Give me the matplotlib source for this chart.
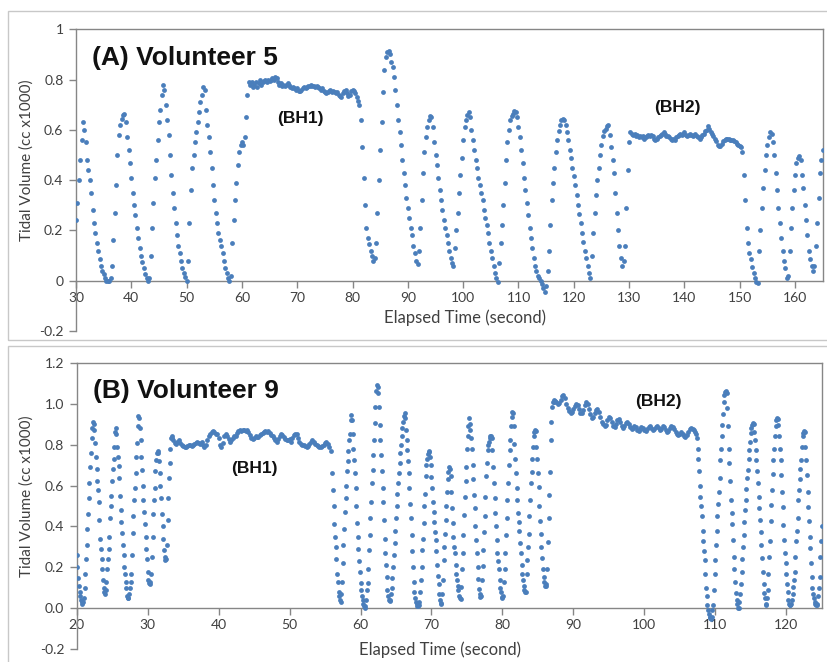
#!/usr/bin/env python3

import numpy as np
import matplotlib
matplotlib.use("Agg")
import matplotlib.pyplot as plt
from matplotlib.patches import Rectangle

plt.rcParams["font.family"] = ["Lato", "DejaVu Sans"]

dot_color = "#4a7ebb"
axis_gray = "#868686"
frame_gray = "#c8c8c8"

# Panel A: volunteer 5, one sample every 0.25 s, split in breathing / breath-hold runs
a_steps = [0.25, 0.25, 0.25, 0.25, 0.25]
a_starts = [30.0, 61.5, 81.25, 130.5, 150.75]
a_free1 = [
  0.24, 0.31, 0.40, 0.48, 0.56, 0.63, 0.60, 0.55, 0.48, 0.44, 0.40, 0.35, 0.28, 0.23, 0.19, 0.15, 0.12, 0.085, 0.06, 0.04,
  0.025, 0.01, 0.0, 0.0, 0.0, 0.01, 0.06, 0.16, 0.27, 0.38, 0.50, 0.58, 0.62, 0.645, 0.66, 0.665, 0.63, 0.57, 0.52, 0.47,
  0.41, 0.35, 0.30, 0.26, 0.21, 0.17, 0.13, 0.10, 0.075, 0.05, 0.025, 0.01, 0.0, 0.01, 0.10, 0.21, 0.31, 0.41, 0.48, 0.56,
  0.63, 0.68, 0.74, 0.78, 0.76, 0.70, 0.64, 0.58, 0.50, 0.42, 0.35, 0.29, 0.23, 0.18, 0.14, 0.11, 0.08, 0.05, 0.03, 0.015,
  0.0, 0.08, 0.23, 0.36, 0.45, 0.50, 0.55, 0.59, 0.63, 0.67, 0.71, 0.74, 0.77, 0.76, 0.68, 0.62, 0.57, 0.51, 0.45, 0.38,
  0.32, 0.27, 0.23, 0.19, 0.16, 0.14, 0.11, 0.08, 0.05, 0.03, 0.01, 0.0, 0.02, 0.15, 0.24, 0.32, 0.39, 0.46, 0.51, 0.54,
  0.55, 0.54, 0.57, 0.65, 0.74, 0.79,
]
a_hold1 = [
  0.78, 0.79, 0.77, 0.78, 0.79, 0.77, 0.785, 0.80, 0.78, 0.79, 0.795, 0.80,
  0.79, 0.80, 0.795, 0.80, 0.805, 0.80, 0.81, 0.805, 0.79, 0.78, 0.785, 0.775, 0.78, 0.775, 0.78, 0.785, 0.78, 0.77, 0.765, 0.77,
  0.765, 0.76, 0.765, 0.755, 0.755, 0.76, 0.765, 0.77, 0.765, 0.77, 0.775, 0.775, 0.78, 0.775, 0.775, 0.77, 0.775, 0.77, 0.765, 0.76,
  0.765, 0.755, 0.75, 0.745, 0.75, 0.755, 0.76, 0.75, 0.755, 0.75, 0.745, 0.75, 0.74, 0.735, 0.73, 0.745, 0.755, 0.76, 0.745, 0.735,
  0.74, 0.755, 0.76, 0.755, 0.745, 0.73, 0.715,
]
a_free2 = [
  0.70, 0.64, 0.53, 0.41, 0.30, 0.21, 0.17, 0.145, 0.12, 0.10, 0.08, 0.09,
  0.15, 0.27, 0.40, 0.52, 0.63, 0.75, 0.84, 0.89, 0.91, 0.915, 0.90, 0.87, 0.85, 0.81, 0.76, 0.70, 0.64, 0.59, 0.54, 0.48,
  0.43, 0.38, 0.33, 0.29, 0.25, 0.21, 0.18, 0.14, 0.11, 0.08, 0.065, 0.12, 0.21, 0.32, 0.43, 0.51, 0.57, 0.61, 0.64, 0.655,
  0.65, 0.61, 0.55, 0.50, 0.46, 0.41, 0.36, 0.32, 0.28, 0.24, 0.21, 0.18, 0.15, 0.12, 0.09, 0.07, 0.06, 0.13, 0.20, 0.27,
  0.35, 0.42, 0.49, 0.56, 0.61, 0.64, 0.66, 0.67, 0.65, 0.60, 0.56, 0.52, 0.48, 0.45, 0.41, 0.38, 0.35, 0.32, 0.28, 0.25,
  0.22, 0.19, 0.15, 0.12, 0.09, 0.06, 0.03, 0.01, -0.005, 0.07, 0.15, 0.22, 0.30, 0.39, 0.48, 0.55, 0.60, 0.64, 0.655, 0.665,
  0.675, 0.67, 0.65, 0.61, 0.57, 0.52, 0.47, 0.41, 0.36, 0.31, 0.26, 0.21, 0.17, 0.13, 0.09, 0.06, 0.04, 0.02, 0.01, 0.0,
  -0.015, -0.03, -0.045, -0.02, 0.04, 0.12, 0.22, 0.32, 0.39, 0.45, 0.51, 0.56, 0.595, 0.62, 0.64, 0.645, 0.64, 0.62, 0.59, 0.56,
  0.52, 0.49, 0.45, 0.415, 0.38, 0.34, 0.30, 0.265, 0.23, 0.19, 0.155, 0.12, 0.09, 0.06, 0.03, 0.01, 0.10, 0.19, 0.27, 0.34,
  0.40, 0.45, 0.50, 0.54, 0.575, 0.595, 0.605, 0.615, 0.62, 0.58, 0.53, 0.48, 0.43, 0.35, 0.27, 0.20, 0.14, 0.09, 0.06, 0.08,
  0.14, 0.29, 0.44, 0.55, 0.59,
]
a_hold2 = [
  0.585, 0.58, 0.585, 0.575, 0.58, 0.57, 0.575, 0.57, 0.575, 0.565, 0.57, 0.575, 0.58, 0.575, 0.58, 0.575,
  0.565, 0.56, 0.565, 0.57, 0.575, 0.58, 0.585, 0.59, 0.585, 0.575, 0.575, 0.57, 0.565, 0.56, 0.565, 0.56, 0.57, 0.575, 0.58, 0.585,
  0.58, 0.585, 0.59, 0.58, 0.575, 0.58, 0.585, 0.58, 0.575, 0.58, 0.585, 0.575, 0.57, 0.565, 0.57, 0.58, 0.585, 0.595, 0.60, 0.615,
  0.605, 0.59, 0.585, 0.575, 0.565, 0.555, 0.54, 0.535, 0.535, 0.545, 0.555, 0.56, 0.565, 0.565, 0.565, 0.56, 0.56, 0.56, 0.555, 0.55,
  0.545, 0.54, 0.535, 0.53, 0.51,
]
a_free3 = [
  0.42, 0.32, 0.21, 0.15, 0.11, 0.085, 0.055, 0.03, 0.01, -0.005, -0.01, 0.12, 0.20, 0.29, 0.37, 0.44,
  0.50, 0.54, 0.57, 0.59, 0.585, 0.55, 0.50, 0.43, 0.36, 0.29, 0.23, 0.17, 0.12, 0.08, 0.05, 0.01, 0.02, 0.12, 0.21, 0.29,
  0.36, 0.42, 0.47, 0.49, 0.495, 0.48, 0.42, 0.37, 0.30, 0.24, 0.18, 0.12, 0.085, 0.06, 0.04, 0.06, 0.14, 0.23, 0.33, 0.43,
  0.48, 0.52,
]

# Panel B: volunteer 9, breathing runs every 0.1 s, breath holds every 0.2 s
b_steps = [0.1, 0.2, 0.1, 0.2, 0.1]
b_starts = [20.0, 33.6, 56.0, 87.6, 107.3]
b_free1 = [
  0.26, 0.20, 0.15, 0.11, 0.08, 0.06, 0.04, 0.03, 0.02, 0.03,
  0.05, 0.10, 0.17, 0.24, 0.31, 0.39, 0.46, 0.54, 0.61, 0.69,
  0.76, 0.83, 0.88, 0.91, 0.90, 0.87, 0.81, 0.74, 0.68, 0.62,
  0.58, 0.52, 0.43, 0.34, 0.29, 0.24, 0.19, 0.14, 0.10, 0.08,
  0.07, 0.09, 0.13, 0.19, 0.24, 0.29, 0.35, 0.44, 0.50, 0.55,
  0.62, 0.68, 0.73, 0.79, 0.86, 0.88, 0.85, 0.79, 0.74, 0.695,
  0.635, 0.55, 0.48, 0.42, 0.37, 0.31, 0.26, 0.20, 0.17, 0.13,
  0.10, 0.06, 0.05, 0.05, 0.07, 0.10, 0.13, 0.17, 0.26, 0.37,
  0.45, 0.53, 0.59, 0.66, 0.74, 0.81, 0.89, 0.94, 0.93, 0.88,
  0.82, 0.74, 0.675, 0.60, 0.53, 0.47, 0.41, 0.35, 0.29, 0.24,
  0.18, 0.14, 0.125, 0.12, 0.13, 0.17, 0.25, 0.35, 0.46, 0.53,
  0.59, 0.67, 0.725, 0.76, 0.77, 0.76, 0.72, 0.66, 0.60, 0.54,
  0.46, 0.40, 0.34, 0.285, 0.25, 0.235, 0.24, 0.31, 0.43, 0.54,
  0.635, 0.71, 0.78, 0.83, 0.84, 0.83,
]
b_hold1 = [
  0.82, 0.81, 0.805, 0.815, 0.82, 0.81, 0.80, 0.795, 0.79, 0.79, 0.795, 0.80, 0.80, 0.795, 0.80, 0.805, 0.81, 0.815, 0.81, 0.805,
  0.815, 0.80, 0.79, 0.80, 0.82, 0.84, 0.85, 0.86, 0.865, 0.86, 0.85, 0.85, 0.83, 0.80, 0.79, 0.81, 0.84, 0.85, 0.84, 0.825,
  0.815, 0.82, 0.83, 0.84, 0.84, 0.855, 0.865, 0.87, 0.865, 0.87, 0.87, 0.865, 0.87, 0.86, 0.845, 0.83, 0.825, 0.83, 0.84, 0.835,
  0.835, 0.845, 0.85, 0.855, 0.86, 0.865, 0.86, 0.865, 0.855, 0.845, 0.84, 0.83, 0.82, 0.815, 0.825, 0.84, 0.85, 0.845, 0.835, 0.825,
  0.82, 0.82, 0.825, 0.815, 0.83, 0.845, 0.85, 0.85, 0.83, 0.815, 0.805, 0.80, 0.80, 0.795, 0.79, 0.795, 0.805, 0.815, 0.82, 0.815,
  0.805, 0.80, 0.795, 0.79, 0.79, 0.795, 0.80, 0.81, 0.815, 0.805, 0.79, 0.77,
]
b_free2 = [
  0.66, 0.58, 0.50, 0.41, 0.35, 0.30, 0.24, 0.17, 0.13, 0.08,
  0.06, 0.04, 0.03, 0.07, 0.13, 0.22, 0.31, 0.39, 0.47, 0.54,
  0.60, 0.67, 0.72, 0.77, 0.82, 0.85, 0.92, 0.945, 0.92, 0.85,
  0.78, 0.725, 0.66, 0.59, 0.50, 0.415, 0.35, 0.29, 0.23, 0.18,
  0.125, 0.09, 0.06, 0.04, 0.02, 0.01, 0.0, 0.01, 0.04, 0.09,
  0.125, 0.19, 0.285, 0.36, 0.44, 0.52, 0.61, 0.675, 0.75, 0.82,
  0.905, 0.985, 1.06, 1.09, 1.08, 1.05, 0.985, 0.895, 0.82, 0.75,
  0.67, 0.59, 0.52, 0.43, 0.34, 0.27, 0.21, 0.155, 0.09, 0.06,
  0.04, 0.035, 0.04, 0.07, 0.10, 0.15, 0.20, 0.26, 0.32, 0.38,
  0.44, 0.50, 0.56, 0.61, 0.66, 0.71, 0.76, 0.80, 0.84, 0.88,
  0.91, 0.94, 0.955, 0.93, 0.87, 0.82, 0.775, 0.72, 0.66, 0.59,
  0.51, 0.44, 0.36, 0.28, 0.20, 0.13, 0.08, 0.05, 0.03, 0.02,
  0.01, 0.01, 0.015, 0.03, 0.08, 0.14, 0.20, 0.285, 0.34, 0.415,
  0.50, 0.56, 0.645, 0.70, 0.73, 0.755, 0.765, 0.77, 0.74, 0.70,
  0.64, 0.59, 0.52, 0.47, 0.42, 0.375, 0.335, 0.28, 0.21, 0.16,
  0.12, 0.07, 0.04, 0.025, 0.02, 0.07, 0.14, 0.235, 0.30, 0.365,
  0.43, 0.50, 0.57, 0.63, 0.665, 0.69, 0.68, 0.645, 0.57, 0.49,
  0.415, 0.35, 0.30, 0.27, 0.21, 0.17, 0.14, 0.11, 0.09, 0.06,
  0.05, 0.045, 0.105, 0.19, 0.27, 0.36, 0.455, 0.545, 0.62, 0.69,
  0.78, 0.84, 0.89, 0.93, 0.90, 0.87, 0.83, 0.78, 0.70, 0.63,
  0.555, 0.49, 0.40, 0.335, 0.27, 0.20, 0.145, 0.095, 0.07, 0.055,
  0.06, 0.14, 0.205, 0.285, 0.375, 0.45, 0.545, 0.645, 0.71, 0.775,
  0.80, 0.815, 0.83, 0.84, 0.84, 0.83, 0.775, 0.69, 0.61, 0.54,
  0.465, 0.40, 0.335, 0.27, 0.23, 0.19, 0.14, 0.10, 0.08, 0.055,
  0.05, 0.06, 0.13, 0.19, 0.27, 0.36, 0.44, 0.53, 0.61, 0.70,
  0.775, 0.82, 0.89, 0.935, 0.96, 0.955, 0.89, 0.805, 0.73, 0.66,
  0.59, 0.53, 0.465, 0.42, 0.38, 0.32, 0.27, 0.21, 0.17, 0.14,
  0.11, 0.09, 0.08, 0.08, 0.17, 0.235, 0.30, 0.365, 0.45, 0.53,
  0.61, 0.665, 0.73, 0.79, 0.84, 0.86, 0.87, 0.865, 0.79, 0.73,
  0.66, 0.595, 0.50, 0.425, 0.365, 0.30, 0.245, 0.19, 0.155, 0.13,
  0.11, 0.11, 0.12, 0.19, 0.325, 0.44, 0.555, 0.665, 0.82, 0.91,
  0.985, 1.01, 1.02, 1.01, 1.015,
]
b_hold2 = [
  1.01, 1.0, 1.005, 1.02, 1.035, 1.04, 1.03, 1.0, 0.98, 0.965, 0.955, 0.96, 0.975, 0.99, 1.0, 0.995, 0.975, 0.955, 0.955, 0.97,
  0.995, 1.01, 1.0, 0.975, 0.95, 0.93, 0.935, 0.955, 0.97, 0.975, 0.96, 0.935, 0.91, 0.90, 0.89, 0.895, 0.92, 0.935, 0.93, 0.91,
  0.89, 0.885, 0.90, 0.92, 0.925, 0.91, 0.89, 0.88, 0.89, 0.905, 0.91, 0.90, 0.885, 0.875, 0.88, 0.89, 0.885, 0.87, 0.865, 0.875,
  0.885, 0.88, 0.87, 0.865, 0.875, 0.885, 0.89, 0.88, 0.87, 0.875, 0.885, 0.89, 0.88, 0.87, 0.875, 0.89, 0.885, 0.87, 0.86, 0.865,
  0.88, 0.89, 0.885, 0.875, 0.86, 0.85, 0.845, 0.85, 0.86, 0.85, 0.84, 0.835, 0.845, 0.86, 0.875, 0.88, 0.875, 0.87, 0.86,
]
b_free3 = [
  0.85, 0.83, 0.78, 0.73, 0.67, 0.60, 0.545, 0.50, 0.45, 0.38,
  0.33, 0.28, 0.235, 0.17, 0.10, 0.06, 0.015, -0.01, -0.03, -0.04,
  -0.045, -0.05, -0.04, -0.01, 0.016, 0.09, 0.17, 0.235, 0.31, 0.38,
  0.45, 0.51, 0.57, 0.635, 0.725, 0.78, 0.84, 0.895, 0.95, 1.01,
  1.04, 1.055, 1.06, 1.05, 0.98, 0.89, 0.78, 0.71, 0.62, 0.53,
  0.465, 0.41, 0.335, 0.25, 0.19, 0.13, 0.075, 0.04, 0.02, 0.0,
  0.0, 0.03, 0.07, 0.12, 0.18, 0.24, 0.30, 0.36, 0.42, 0.48,
  0.53, 0.585, 0.635, 0.675, 0.73, 0.775, 0.815, 0.855, 0.88, 0.895,
  0.905, 0.90, 0.86, 0.82, 0.775, 0.725, 0.67, 0.61, 0.545, 0.49,
  0.43, 0.375, 0.31, 0.245, 0.18, 0.12, 0.075, 0.05, 0.02, 0.015,
  0.05, 0.09, 0.17, 0.25, 0.33, 0.425, 0.505, 0.58, 0.655, 0.725,
  0.78, 0.84, 0.89, 0.92, 0.93, 0.925, 0.895, 0.84, 0.78, 0.725,
  0.65, 0.57, 0.495, 0.405, 0.335, 0.27, 0.22, 0.17, 0.12, 0.08,
  0.04, 0.02, 0.015, 0.015, 0.02, 0.04, 0.07, 0.105, 0.14, 0.18,
  0.25, 0.33, 0.38, 0.44, 0.53, 0.58, 0.63, 0.68, 0.725, 0.79,
  0.84, 0.855, 0.865, 0.86, 0.79, 0.725, 0.65, 0.57, 0.495, 0.425,
  0.35, 0.295, 0.22, 0.155, 0.10, 0.07, 0.05, 0.03, 0.02, 0.015,
  0.015, 0.02, 0.06, 0.10, 0.155, 0.25, 0.33, 0.40,
]

a_xticks = list(range(30, 170, 10))
a_yticks = [-0.2, 0, 0.2, 0.4, 0.6, 0.8, 1]
a_ylabels = ["-0.2", "0", "0.2", "0.4", "0.6", "0.8", "1"]
b_xticks = list(range(20, 130, 10))
b_yticks = [-0.2, 0.0, 0.2, 0.4, 0.6, 0.8, 1.0, 1.2]
b_ylabels = ["-0.2", "0.0", "0.2", "0.4", "0.6", "0.8", "1.0", "1.2"]


def join_runs(starts, runs, steps):
  t, v = [], []
  for t0, run, step in zip(starts, runs, steps):
    t.extend(t0 + step*np.arange(len(run)))
    v.extend(run)
  return np.array(t), np.array(v)


W, H = 827, 662

def fig_box(x0, y0, x1, y1):
  # pixel box (top-left origin) -> figure fraction rect
  return [x0/W, 1 - y1/H, (x1 - x0)/W, (y1 - y0)/H]


def draw_panel(fig, box, t, v, xlim, ylim, xticks, yticks, ylabels, title, notes, ylab_xy, xlab_xy, title_xy):
  ax = fig.add_axes(fig_box(*box))
  ax.scatter(t, v, s=12, color=dot_color, linewidths=0, zorder=3)
  ax.set_xlim(*xlim)
  ax.set_ylim(*ylim)

  ax.spines["bottom"].set_position(("data", 0))
  for side in ["left", "bottom", "top", "right"]:
    ax.spines[side].set_color(axis_gray)
    ax.spines[side].set_linewidth(1.0)
  ax.spines["right"].set_bounds(0, ylim[1])

  ax.set_xticks(xticks)
  ax.set_xticklabels([str(x) for x in xticks])
  ax.set_yticks(yticks)
  ax.set_yticklabels(ylabels)
  ax.tick_params(axis="both", direction="out", length=5, width=1, color=axis_gray,
                 labelsize=10, labelcolor="#404040")
  ax.tick_params(axis="x", pad=3)
  ax.tick_params(axis="y", pad=4)

  for (nx, ny, s) in notes:
    ax.text(nx, ny, s, ha="center", va="center", fontsize=12.5, fontweight="bold",
            family=["Liberation Sans", "DejaVu Sans"], color="#111111")

  fig.text(ylab_xy[0]/W, 1 - ylab_xy[1]/H, "Tidal Volume (cc x1000)", rotation=90,
           ha="center", va="center", fontsize=11, color="#404040")
  fig.text(xlab_xy[0]/W, 1 - xlab_xy[1]/H, "Elapsed Time (second)",
           ha="center", va="center", fontsize=12, color="#404040")
  fig.text(title_xy[0]/W, 1 - title_xy[1]/H, title, ha="left", va="baseline",
           fontsize=19, fontweight="bold", family=["Liberation Sans", "DejaVu Sans"],
           color="#111111")
  return ax


def main():
  fig = plt.figure(figsize=(W/100, H/100), dpi=100)

  # light outer frames around each panel
  fig.add_artist(Rectangle((8/W, 1 - 340/H), 830/W, 329/H, transform=fig.transFigure,
                           fill=False, ec=frame_gray, lw=1))
  fig.add_artist(Rectangle((8/W, 1 - 670/H), 830/W, 324/H, transform=fig.transFigure,
                           fill=False, ec=frame_gray, lw=1))

  ta, va = join_runs(a_starts, [a_free1, a_hold1, a_free2, a_hold2, a_free3], a_steps)
  tb, vb = join_runs(b_starts, [b_free1, b_hold1, b_free2, b_hold2, b_free3], b_steps)

  draw_panel(
    fig, (76, 29.3, 822.7, 331), ta, va, (30, 165), (-0.2, 1.0),
    a_xticks, a_yticks, a_ylabels, "(A) Volunteer 5",
    [(70.5, 0.647, "(BH1)"), (138.7, 0.687, "(BH2)")],
    (27, 160), (465, 318), (92, 65),
  )
  draw_panel(
    fig, (76.7, 362.7, 821.7, 649.3), tb, vb, (20, 125), (-0.2, 1.2),
    b_xticks, b_yticks, b_ylabels, "(B) Volunteer 9",
    [(45.1, 0.685, "(BH1)"), (102.0, 1.01, "(BH2)")],
    (27, 496), (440, 650), (93, 398),
  )

  fig.savefig("out.png", dpi=100)


if __name__ == "__main__":
  main()
